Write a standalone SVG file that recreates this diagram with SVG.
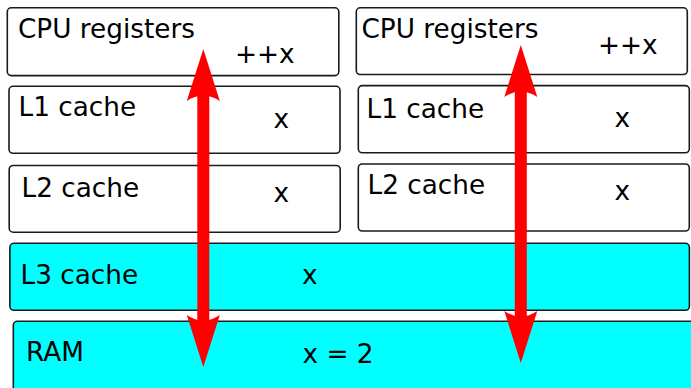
<svg xmlns="http://www.w3.org/2000/svg" width="691" height="388" viewBox="0 0 691 388">
<style>
.box{fill:#fff;stroke:#1a1a1a;stroke-width:1.6}
.mem{fill:#00ffff;stroke:#1a1a1a;stroke-width:1.6}
text{font-family:"DejaVu Sans",sans-serif;font-size:26.3px;fill:#000}
.arrow{stroke:#ff0000;stroke-width:12;fill:none;marker-start:url(#head);marker-end:url(#head)}
</style>
<defs>
<marker id="head" markerUnits="userSpaceOnUse" orient="auto-start-reverse" refX="0" refY="0" markerWidth="1" markerHeight="1" overflow="visible">
<path d="M41,0 L-11,-16.5 Q0,0 -11,16.5 Z" fill="#ff0000"/>
</marker>
</defs>
<g id="cpu-left"><rect class="box" x="7.3" y="7.8" width="331.5" height="67.8" rx="4"/><text x="18" y="37.5">CPU registers</text><text x="235" y="62.5">++x</text></g>
<g id="l1-left"><rect class="box" x="9" y="86.3" width="331" height="67" rx="4"/><text x="18.5" y="115.5">L1 cache</text><text x="273.5" y="128">x</text></g>
<g id="l2-left"><rect class="box" x="9.2" y="165.5" width="331" height="66.7" rx="4"/><text x="21.5" y="197">L2 cache</text><text x="273.5" y="202">x</text></g>
<g id="cpu-right"><rect class="box" x="356.3" y="7.8" width="331" height="66.7" rx="4"/><text x="361.5" y="37.5">CPU registers</text><text x="598" y="54">++x</text></g>
<g id="l1-right"><rect class="box" x="358.3" y="85.6" width="331" height="67.2" rx="4"/><text x="366.5" y="117.5">L1 cache</text><text x="614.5" y="127">x</text></g>
<g id="l2-right"><rect class="box" x="358.3" y="164" width="331" height="67" rx="4"/><text x="367.5" y="194">L2 cache</text><text x="614.5" y="200">x</text></g>
<g id="l3"><rect class="mem" x="9.9" y="243.3" width="679.5" height="67" rx="4"/><text x="20.5" y="284">L3 cache</text><text x="302" y="284">x</text></g>
<g id="ram"><rect class="mem" x="13.3" y="321.3" width="700" height="80" rx="4"/><text x="26" y="361">RAM</text><text x="302.5" y="363">x = 2</text></g>
<g id="connectors">
<line class="arrow" x1="203.3" y1="90" x2="203.3" y2="326"/>
<line class="arrow" x1="520.8" y1="86" x2="520.8" y2="322"/>
</g>
</svg>
